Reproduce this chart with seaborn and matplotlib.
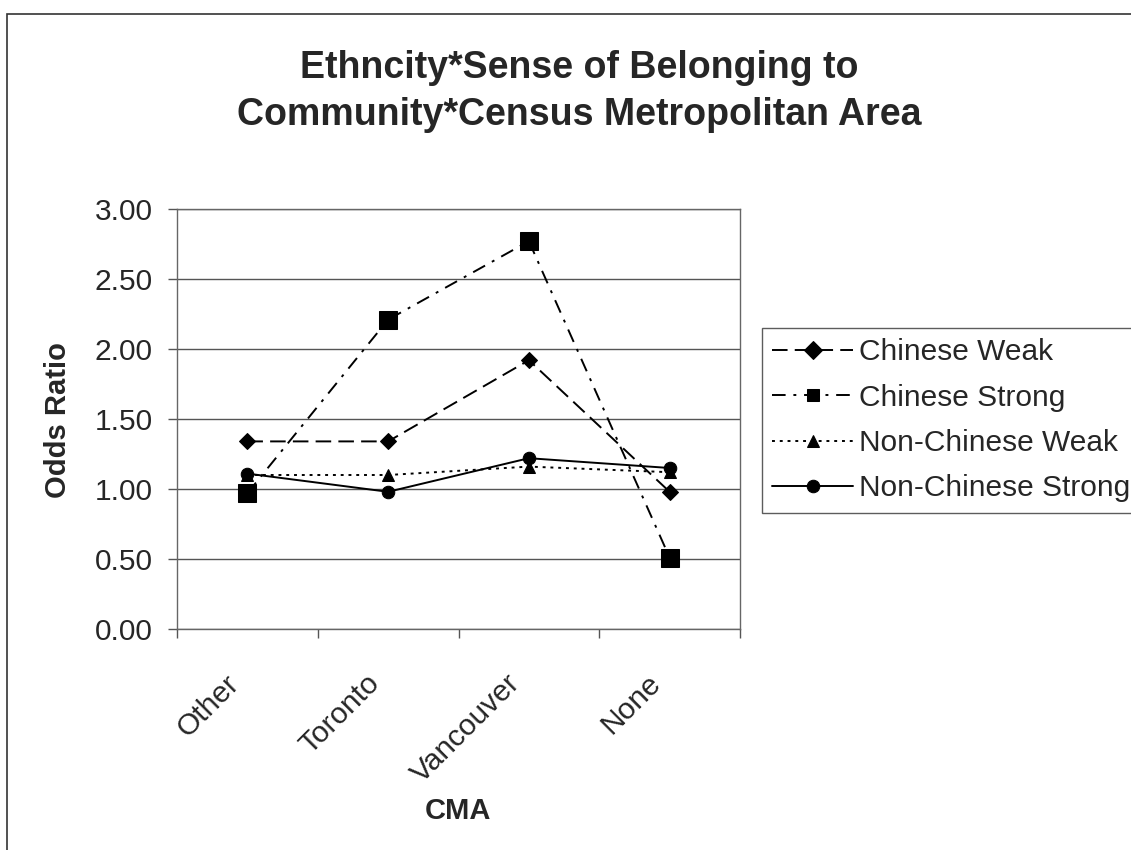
import pandas as pd
import numpy as np
import matplotlib
matplotlib.use("Agg")
import matplotlib.pyplot as plt
import matplotlib.transforms as mtransforms
from matplotlib.patches import Rectangle
import seaborn as sns

# data
cma = ["Other", "Toronto", "Vancouver", "None"]
chinese_weak = [1.34, 1.34, 1.92, 0.98]
chinese_strong = [0.97, 2.21, 2.77, 0.51]
nonchinese_weak = [1.10, 1.10, 1.16, 1.12]
nonchinese_strong = [1.11, 0.98, 1.22, 1.15]
series_names = ["Chinese Weak", "Chinese Strong", "Non-Chinese Weak", "Non-Chinese Strong"]
yticks = [0.0, 0.5, 1.0, 1.5, 2.0, 2.5, 3.0]

sns.set_style("white")
plt.rcParams['font.family'] = ['Liberation Sans', 'DejaVu Sans']

rows = []
for name, vals in zip(series_names, [chinese_weak, chinese_strong, nonchinese_weak, nonchinese_strong]):
    for c, v in zip(cma, vals):
        rows.append({"CMA": c, "Odds Ratio": v, "Series": name})
df = pd.DataFrame(rows)

fig = plt.figure(figsize=(11.31, 8.5), dpi=100)
ax = fig.add_axes([177 / 1131, 1 - 629 / 850, (740 - 177) / 1131, (629 - 209) / 850])

markers = {"Chinese Weak": "D", "Chinese Strong": "s",
           "Non-Chinese Weak": "^", "Non-Chinese Strong": "o"}
dashes = {"Chinese Weak": (8, 3.7), "Chinese Strong": (7, 4, 1.5, 4),
          "Non-Chinese Weak": (1.5, 2.5), "Non-Chinese Strong": ""}
sizes_map = {"Chinese Weak": 8, "Chinese Strong": 13,
             "Non-Chinese Weak": 9, "Non-Chinese Strong": 9}

sns.lineplot(data=df, x="CMA", y="Odds Ratio", style="Series", markers=markers,
             dashes=dashes, color="black", linewidth=1.4, markersize=9,
             markeredgecolor="black", ax=ax, sort=False, legend=True)

for line, name in zip(ax.get_lines(), series_names):
    line.set_markersize(sizes_map[name])

ax.set_xlim(-0.5, 3.5)
ax.set_ylim(0, 3)
ax.set_yticks(yticks)
ax.set_yticklabels([f"{t:.2f}" for t in yticks], fontsize=21.5)
ax.yaxis.grid(True, color="#555555", linewidth=1)
ax.xaxis.grid(False)

# category labels, rotated like the original (anchored a bit left of each category)
ax.set_xticks(range(len(cma)))
ax.set_xticklabels([])
ax.tick_params(axis="x", which="major", length=0)
shift = mtransforms.ScaledTranslation(-13 / 100, -50 / 100, fig.dpi_scale_trans)
for i, c in enumerate(cma):
    ax.text(i, 0, c, transform=ax.get_xaxis_transform() + shift, rotation=45,
            ha="right", va="center", rotation_mode="anchor", fontsize=21.5, clip_on=False)

ax.set_xticks(np.arange(-0.5, 4, 1), minor=True)
ax.tick_params(axis="x", which="minor", length=6.5, width=1, color="#555555", direction="out", bottom=True)
ax.tick_params(axis="y", length=6.5, width=1, color="#555555", direction="out", left=True, pad=11)
for s in ax.spines.values():
    s.set_color("#666666")
    s.set_linewidth(1)

ax.set_xlabel("")
ax.set_ylabel("")
fig.text(58 / 1131, 1 - 420 / 850, "Odds Ratio", rotation=90, ha="center", va="center",
         fontsize=21, fontweight="bold")
fig.text(458 / 1131, 1 - 811 / 850, "CMA", ha="center", va="center",
         fontsize=21, fontweight="bold")
fig.text(579 / 1131, 1 - 68 / 850, "Ethncity*Sense of Belonging to", ha="center", va="center",
         fontsize=27, fontweight="bold")
fig.text(579 / 1131, 1 - 115 / 850, "Community*Census Metropolitan Area", ha="center", va="center",
         fontsize=27, fontweight="bold")

handles, labels = ax.get_legend_handles_labels()
ax.get_legend().remove()
leg = fig.legend(handles, labels, loc="upper left", bbox_to_anchor=(762 / 1131, 1 - 328 / 850),
                 fontsize=21.5, frameon=True, fancybox=False, handlelength=2.7,
                 handletextpad=0.2, borderpad=0.35, labelspacing=0.58, borderaxespad=0)
leg.get_frame().set_edgecolor("#333333")
leg.get_frame().set_linewidth(1)
for h in leg.legend_handles:
    h.set_markersize(9)

# outer chart border
fig.patches.append(Rectangle((7 / 1131, -0.01), 1.02, 1 - 14 / 850 + 0.01,
                             transform=fig.transFigure, fill=False,
                             edgecolor="#333333", linewidth=1.2))

fig.savefig("out.png", dpi=100)
